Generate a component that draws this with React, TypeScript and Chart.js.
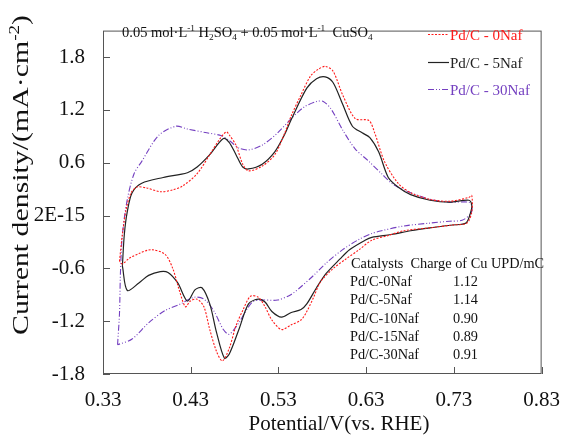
import React, { useEffect, useRef } from 'react';
import { Chart, registerables } from 'chart.js';
Chart.register(...registerables);

const FONT = "'Liberation Serif', 'Times New Roman', serif";

// Pd/C - 0Naf (anodic branch then cathodic branch)
const naf0V = [0.3488, 0.3521, 0.3565, 0.3621, 0.3687, 0.3798, 0.3953, 0.4096, 0.4207, 0.4373, 0.4517, 0.4627, 0.4705, 0.4738, 0.4816, 0.4893, 0.4959, 0.5114, 0.5258, 0.5369, 0.5446, 0.5557, 0.5667, 0.5756, 0.5833, 0.5922, 0.6032, 0.6176, 0.6331, 0.6397, 0.6508, 0.6663, 0.6807, 0.7028, 0.7249, 0.7470, 0.7504,
  0.7504, 0.7448, 0.7282, 0.7028, 0.6729, 0.6552, 0.6364, 0.6220, 0.6066, 0.5922, 0.5778, 0.5701, 0.5623, 0.5557, 0.5446, 0.5335, 0.5225, 0.5147, 0.5070, 0.4981, 0.4893, 0.4816, 0.4738, 0.4661, 0.4594, 0.4517, 0.4450, 0.4373, 0.4296, 0.4240, 0.4174, 0.4096, 0.4008, 0.3853, 0.3709, 0.3599, 0.3521, 0.3488];
const naf0J = [-0.518, -0.216, 0.076, 0.259, 0.324, 0.313, 0.270, 0.291, 0.335, 0.475, 0.691, 0.863, 0.950, 0.917, 0.799, 0.583, 0.507, 0.561, 0.691, 0.930, 1.133, 1.370, 1.586, 1.662, 1.694, 1.640, 1.370, 1.101, 1.079, 0.939, 0.615, 0.367, 0.259, 0.183, 0.162, 0.205, 0.227,
  0.043, -0.086, -0.108, -0.140, -0.173, -0.227, -0.281, -0.388, -0.496, -0.604, -0.755, -0.928, -1.090, -1.187, -1.241, -1.295, -1.187, -1.036, -0.928, -0.917, -1.079, -1.252, -1.511, -1.651, -1.543, -1.295, -1.036, -0.950, -0.971, -1.036, -0.863, -0.604, -0.442, -0.388, -0.432, -0.486, -0.550, -0.518];

// Pd/C - 5Naf
const naf5V = [0.3521, 0.3543, 0.3577, 0.3632, 0.3742, 0.3986, 0.4262, 0.4373, 0.4517, 0.4672, 0.4738, 0.4816, 0.4893, 0.4959, 0.5114, 0.5258, 0.5369, 0.5446, 0.5623, 0.5734, 0.5833, 0.5922, 0.6032, 0.6143, 0.6254, 0.6342, 0.6442, 0.6552, 0.6663, 0.6807, 0.7028, 0.7249, 0.7470, 0.7504,
  0.7493, 0.7437, 0.7282, 0.7028, 0.6807, 0.6585, 0.6364, 0.6287, 0.6110, 0.5999, 0.5844, 0.5734, 0.5623, 0.5557, 0.5446, 0.5335, 0.5225, 0.5147, 0.5070, 0.4959, 0.4849, 0.4738, 0.4683, 0.4594, 0.4517, 0.4428, 0.4351, 0.4262, 0.4152, 0.4041, 0.3953, 0.3820, 0.3709, 0.3577, 0.3521];
const naf5J = [-0.572, -0.216, 0.043, 0.259, 0.367, 0.432, 0.486, 0.550, 0.691, 0.874, 0.831, 0.691, 0.550, 0.529, 0.583, 0.723, 0.917, 1.090, 1.446, 1.554, 1.575, 1.511, 1.263, 1.014, 0.939, 0.885, 0.723, 0.432, 0.324, 0.237, 0.173, 0.151, 0.173, 0.119,
  0.043, -0.086, -0.108, -0.140, -0.173, -0.216, -0.248, -0.281, -0.388, -0.496, -0.658, -0.820, -1.004, -1.068, -1.101, -1.155, -1.090, -0.982, -0.950, -1.004, -1.295, -1.576, -1.619, -1.327, -1.004, -0.820, -0.842, -0.971, -0.766, -0.647, -0.637, -0.680, -0.766, -0.852, -0.572];

// Pd/C - 30Naf
const naf30V = [0.3466, 0.3488, 0.3499, 0.3521, 0.3577, 0.3654, 0.3742, 0.3931, 0.4130, 0.4262, 0.4484, 0.4650, 0.4738, 0.4849, 0.4959, 0.5114, 0.5291, 0.5446, 0.5590, 0.5734, 0.5811, 0.5900, 0.6032, 0.6176, 0.6331, 0.6475, 0.6619, 0.6807, 0.7028, 0.7249, 0.7470, 0.7504,
  0.7493, 0.7393, 0.7249, 0.7028, 0.6729, 0.6475, 0.6364, 0.6220, 0.6032, 0.5844, 0.5701, 0.5557, 0.5446, 0.5291, 0.5114, 0.5004, 0.4893, 0.4849, 0.4738, 0.4672, 0.4561, 0.4450, 0.4340, 0.4185, 0.4008, 0.3820, 0.3632, 0.3466];
const naf30J = [-1.468, -1.111, -0.647, -0.216, 0.183, 0.475, 0.615, 0.906, 1.014, 0.982, 0.939, 0.906, 0.852, 0.766, 0.745, 0.799, 0.939, 1.101, 1.230, 1.295, 1.295, 1.209, 0.971, 0.755, 0.615, 0.475, 0.345, 0.259, 0.183, 0.151, 0.151, 0.108,
  0.022, -0.054, -0.065, -0.086, -0.119, -0.173, -0.205, -0.270, -0.388, -0.540, -0.680, -0.809, -0.896, -0.960, -0.960, -0.982, -1.144, -1.219, -1.349, -1.295, -1.079, -0.950, -0.928, -1.004, -1.079, -1.219, -1.403, -1.468];

const xTickValues = [0.33, 0.43, 0.53, 0.63, 0.73, 0.83];
const xTickLabels = ['0.33', '0.43', '0.53', '0.63', '0.73', '0.83'];
const yTickValues = [-1.8, -1.2, -0.6, 0, 0.6, 1.2, 1.8];
const yTickLabels = ['-1.8', '-1.2', '-0.6', '2E-15', '0.6', '1.2', '1.8'];

const seriesNames = ['Pd/C - 0Naf', 'Pd/C - 5Naf', 'Pd/C - 30Naf'];
const tableCatalysts = ['Pd/C-0Naf', 'Pd/C-5Naf', 'Pd/C-10Naf', 'Pd/C-15Naf', 'Pd/C-30Naf'];
const tableCharges = ['1.12', '1.14', '0.90', '0.89', '0.91'];

const RED = '#ff1a1a';
const BLACK = '#222222';
const PURPLE = '#7440c0';

type Part = [string, number];

function richWidth(ctx: CanvasRenderingContext2D, parts: Part[], size: number) {
  let w = 0;
  for (const [t, m] of parts) {
    const s = m === 0 ? size : size * 0.64;
    ctx.font = `${s}px ${FONT}`;
    w += ctx.measureText(t).width;
  }
  return w;
}

function drawRich(ctx: CanvasRenderingContext2D, x: number, y: number, parts: Part[], size: number) {
  let cx = x;
  ctx.textAlign = 'left';
  ctx.textBaseline = 'alphabetic';
  for (const [t, m] of parts) {
    const s = m === 0 ? size : size * 0.64;
    ctx.font = `${s}px ${FONT}`;
    const dy = m === 1 ? -size * 0.38 : m === -1 ? size * 0.2 : 0;
    ctx.fillText(t, cx, y + dy);
    cx += ctx.measureText(t).width;
  }
}

const decorPlugin = {
  id: 'decor',
  afterDatasetsDraw(chart: any) {
    const { ctx, chartArea } = chart;
    const { left, right, top, bottom } = chartArea;
    const xs = chart.scales.x;
    const ys = chart.scales.y;
    ctx.save();
    // frame
    ctx.strokeStyle = '#555';
    ctx.lineWidth = 1;
    ctx.setLineDash([]);
    ctx.strokeRect(left + 0.5, top + 0.5, right - left - 1, bottom - top - 1);
    // inward ticks
    ctx.beginPath();
    for (const v of xTickValues) {
      const px = Math.round(xs.getPixelForValue(v)) + 0.5;
      ctx.moveTo(px, bottom);
      ctx.lineTo(px, bottom - 7);
    }
    for (const v of yTickValues) {
      const py = Math.round(ys.getPixelForValue(v)) + 0.5;
      ctx.moveTo(left, py);
      ctx.lineTo(left + 7, py);
    }
    ctx.stroke();

    // formula annotation
    ctx.fillStyle = '#111';
    drawRich(ctx, 122, 37, [['0.05 mol·L', 0], ['-1', 1], [' H', 0], ['2', -1], ['SO', 0], ['4', -1], [' + 0.05 mol·L', 0], ['-1', 1], ['  CuSO', 0], ['4', -1]], 14.5);

    // legend
    const colors = [RED, BLACK, PURPLE];
    const dashes = [[2, 1.5], [], [6, 2, 1, 2, 1, 2]];
    const rowsY = [34, 62, 89];
    for (let i = 0; i < 3; i++) {
      ctx.strokeStyle = colors[i];
      ctx.lineWidth = i === 1 ? 1.2 : 1;
      ctx.setLineDash(dashes[i]);
      ctx.beginPath();
      ctx.moveTo(428, rowsY[i] + 0.5);
      ctx.lineTo(449, rowsY[i] + 0.5);
      ctx.stroke();
      ctx.setLineDash([]);
      ctx.fillStyle = colors[i];
      ctx.font = `15px ${FONT}`;
      ctx.textAlign = 'left';
      ctx.textBaseline = 'middle';
      ctx.fillText(seriesNames[i], 450, rowsY[i] + 2);
    }

    // table
    ctx.fillStyle = '#111';
    ctx.font = `14.3px ${FONT}`;
    ctx.textAlign = 'left';
    ctx.textBaseline = 'alphabetic';
    ctx.fillText('Catalysts  Charge of Cu UPD/mC', 351, 268);
    const rowY = [286, 304, 323, 341, 359];
    for (let i = 0; i < tableCatalysts.length; i++) {
      ctx.fillText(tableCatalysts[i], 350, rowY[i]);
      ctx.fillText(tableCharges[i], 453, rowY[i]);
    }

    // axis titles
    ctx.fillStyle = '#111';
    ctx.font = `21px ${FONT}`;
    ctx.textAlign = 'center';
    ctx.textBaseline = 'middle';
    ctx.fillText('Potential/V(vs. RHE)', 339, 424);

    const yParts: Part[] = [['Current density/(mA·cm', 0], ['-2', 1], [')', 0]];
    const ySize = 24;
    const w = richWidth(ctx, yParts, ySize);
    const stretch = 320 / w;
    ctx.save();
    ctx.translate(28, 175);
    ctx.rotate(-Math.PI / 2);
    ctx.scale(stretch, 1);
    drawRich(ctx, -w / 2, 0, yParts, ySize);
    ctx.restore();
    ctx.restore();
  },
};

function toPoints(xs: number[], ys: number[]) {
  return xs.map((x, i) => ({ x, y: ys[i] }));
}

export default function App() {
  const ref = useRef<HTMLCanvasElement>(null);
  useEffect(() => {
    document.body.style.margin = '0';
    if (!ref.current) return;
    const chart = new Chart(ref.current, {
      type: 'scatter',
      data: {
        datasets: [
          { label: seriesNames[0], data: toPoints(naf0V, naf0J), showLine: true, borderColor: RED, borderWidth: 1.1, borderDash: [2, 1.5], pointRadius: 0, tension: 0.3, fill: false },
          { label: seriesNames[1], data: toPoints(naf5V, naf5J), showLine: true, borderColor: BLACK, borderWidth: 1.2, pointRadius: 0, tension: 0.3, fill: false },
          { label: seriesNames[2], data: toPoints(naf30V, naf30J), showLine: true, borderColor: PURPLE, borderWidth: 1.1, borderDash: [6, 2, 1, 2, 1, 2], pointRadius: 0, tension: 0.3, fill: false },
        ],
      },
      options: {
        animation: false,
        responsive: false,
        maintainAspectRatio: false,
        layout: { padding: { top: 13, right: 19, left: 0, bottom: 0 } },
        plugins: { legend: { display: false }, tooltip: { enabled: false }, title: { display: false } },
        scales: {
          x: {
            type: 'linear',
            min: 0.33,
            max: 0.83,
            afterBuildTicks: (s: any) => { s.ticks = xTickValues.map((v) => ({ value: v })); },
            afterFit: (s: any) => { s.height = 63; },
            grid: { display: false, drawTicks: false },
            border: { display: false },
            ticks: { font: { family: FONT, size: 21 }, color: '#111', padding: 14, maxRotation: 0, autoSkip: false, callback: (_v: any, i: number) => xTickLabels[i] },
          },
          y: {
            type: 'linear',
            min: -1.8,
            max: 2.1,
            afterBuildTicks: (s: any) => { s.ticks = yTickValues.map((v) => ({ value: v })); },
            afterFit: (s: any) => { s.width = 103; },
            grid: { display: false, drawTicks: false },
            border: { display: false },
            ticks: { font: { family: FONT, size: 21 }, color: '#111', padding: 18, autoSkip: false, callback: (_v: any, i: number) => yTickLabels[i] },
          },
        },
      },
      plugins: [decorPlugin],
    });
    return () => chart.destroy();
  }, []);
  return (
    <div style={{ width: 574, height: 437 }}>
      <canvas ref={ref} width={574} height={437} />
    </div>
  );
}
